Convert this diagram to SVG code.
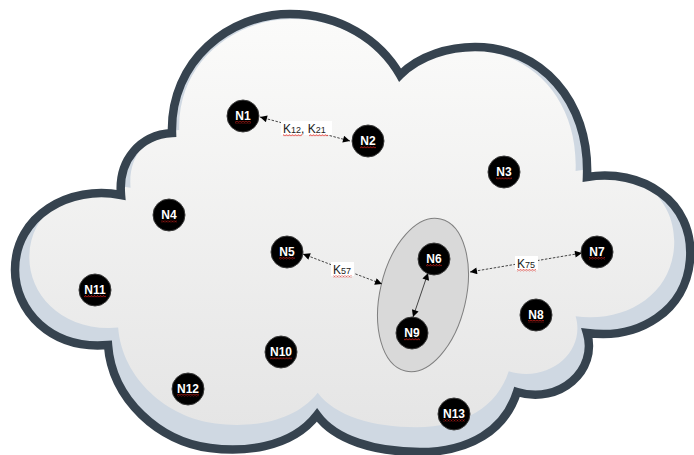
<svg xmlns="http://www.w3.org/2000/svg" width="694" height="455" viewBox="0 0 694 455">
<style>
.node circle{fill:#000;stroke:#3a3a3a;stroke-width:1}
.node text{font-family:"Liberation Sans",Arial,sans-serif;font-weight:bold;font-size:12px;fill:#fff;text-anchor:middle}
.sq{fill:url(#squig)}
.conn{fill:none;stroke:#444;stroke-width:1}
.dash{stroke-dasharray:2.5 1.5}
.lbl{font-family:"Liberation Sans",Arial,sans-serif;font-size:12px;fill:#222}
.lblbg{fill:#fff}
</style>
<defs>
<linearGradient id="fillg" x1="0" y1="0" x2="0" y2="1">
<stop offset="0" stop-color="#fbfbfa"/>
<stop offset="1" stop-color="#e5e5e5"/>
</linearGradient>
<pattern id="squig" width="3" height="2.4" patternUnits="userSpaceOnUse">
<path d="M0,2 L1.5,0.4 L3,2" fill="none" stroke="#e0201a" stroke-width="0.8"/>
</pattern>
<path id="cloudp" d="M172,133 C170,60 230,14 290,14 C340,14 380,40 400,75 C420,55 450,47 475,47 C540,47 590,100 587,177 C640,168 695,200 690,260 C686,310 640,340 587,333 C598,370 560,405 517,392 C505,430 470,452 420,452 C375,452 335,440 317,415 C290,450 240,452 210,448 C160,442 112,400 108,345 C50,350 15,310 15,270 C15,215 70,185 121,195 C118,160 140,135 172,133 Z"/>
<clipPath id="cloudclip"><use href="#cloudp"/></clipPath>
<marker id="ah" viewBox="0 0 10 10" refX="10" refY="5" markerWidth="9" markerHeight="7" markerUnits="userSpaceOnUse" orient="auto-start-reverse">
<path d="M0,0 L10,5 L0,10 Z" fill="#000"/>
</marker>
</defs>

<g id="cloud">
<use href="#cloudp" fill="#cfd8e2"/>
<g clip-path="url(#cloudclip)">
<use href="#cloudp" fill="url(#fillg)" transform="translate(15,6) scale(0.955,0.932)"/>
</g>
<use href="#cloudp" fill="none" stroke="#36434f" stroke-width="8.5" stroke-linejoin="miter"/>
</g>

<g id="cluster">
<ellipse cx="423" cy="295" rx="43" ry="78" transform="rotate(13 423 295)" fill="#d9d9d9" stroke="#7f7f7f" stroke-width="1"/>
</g>

<g id="connectors">
<line class="conn dash" x1="260" y1="117" x2="350" y2="141" marker-start="url(#ah)" marker-end="url(#ah)"/>
<line class="conn dash" x1="303" y1="254" x2="382" y2="284" marker-start="url(#ah)" marker-end="url(#ah)"/>
<line class="conn dash" x1="470" y1="272" x2="582" y2="253" marker-start="url(#ah)" marker-end="url(#ah)"/>
<line class="conn" x1="428" y1="273" x2="413" y2="317" stroke="#000" marker-start="url(#ah)" marker-end="url(#ah)"/>
</g>

<g id="labels">
<rect class="lblbg" x="281" y="121" width="51" height="14"/>
<text class="lbl" x="283" y="133">K<tspan font-size="9">12</tspan>, K<tspan font-size="9">21</tspan></text>
<rect class="sq" x="283" y="134" width="19" height="2.4"/>
<rect class="sq" x="309" y="134" width="19" height="2.4"/>
<rect class="lblbg" x="331" y="262" width="23" height="14"/>
<text class="lbl" x="333" y="274">K<tspan font-size="9">57</tspan></text>
<rect class="sq" x="333" y="275" width="19" height="2.4"/>
<rect class="lblbg" x="515" y="256" width="23" height="14"/>
<text class="lbl" x="517" y="268">K<tspan font-size="9">75</tspan></text>
<rect class="sq" x="517" y="269" width="19" height="2.4"/>
</g>

<g id="N1" class="node"><circle cx="243" cy="116" r="16"/><text x="243" y="120">N1</text><rect class="sq" x="235" y="121" width="16" height="2.4"/></g>
<g id="N2" class="node"><circle cx="368" cy="141" r="16"/><text x="368" y="145">N2</text><rect class="sq" x="360" y="146" width="16" height="2.4"/></g>
<g id="N3" class="node"><circle cx="504" cy="172" r="16"/><text x="504" y="176">N3</text><rect class="sq" x="496" y="177" width="16" height="2.4"/></g>
<g id="N4" class="node"><circle cx="169" cy="215" r="16"/><text x="169" y="219">N4</text><rect class="sq" x="161" y="220" width="16" height="2.4"/></g>
<g id="N5" class="node"><circle cx="287" cy="252" r="16"/><text x="287" y="256">N5</text><rect class="sq" x="279" y="257" width="16" height="2.4"/></g>
<g id="N6" class="node"><circle cx="434" cy="259" r="16"/><text x="434" y="263">N6</text><rect class="sq" x="426" y="264" width="16" height="2.4"/></g>
<g id="N7" class="node"><circle cx="597" cy="252" r="16"/><text x="597" y="256">N7</text><rect class="sq" x="589" y="257" width="16" height="2.4"/></g>
<g id="N8" class="node"><circle cx="536" cy="315" r="16"/><text x="536" y="319">N8</text><rect class="sq" x="528" y="320" width="16" height="2.4"/></g>
<g id="N9" class="node"><circle cx="412" cy="333" r="16"/><text x="412" y="337">N9</text><rect class="sq" x="404" y="338" width="16" height="2.4"/></g>
<g id="N10" class="node"><circle cx="281" cy="352" r="16"/><text x="281" y="356">N10</text><rect class="sq" x="270" y="357" width="22" height="2.4"/></g>
<g id="N11" class="node"><circle cx="95" cy="290" r="16"/><text x="95" y="294">N11</text><rect class="sq" x="84" y="295" width="22" height="2.4"/></g>
<g id="N12" class="node"><circle cx="188" cy="389" r="16"/><text x="188" y="393">N12</text><rect class="sq" x="177" y="394" width="22" height="2.4"/></g>
<g id="N13" class="node"><circle cx="454" cy="414" r="16"/><text x="454" y="418">N13</text><rect class="sq" x="443" y="419" width="22" height="2.4"/></g>
</svg>
